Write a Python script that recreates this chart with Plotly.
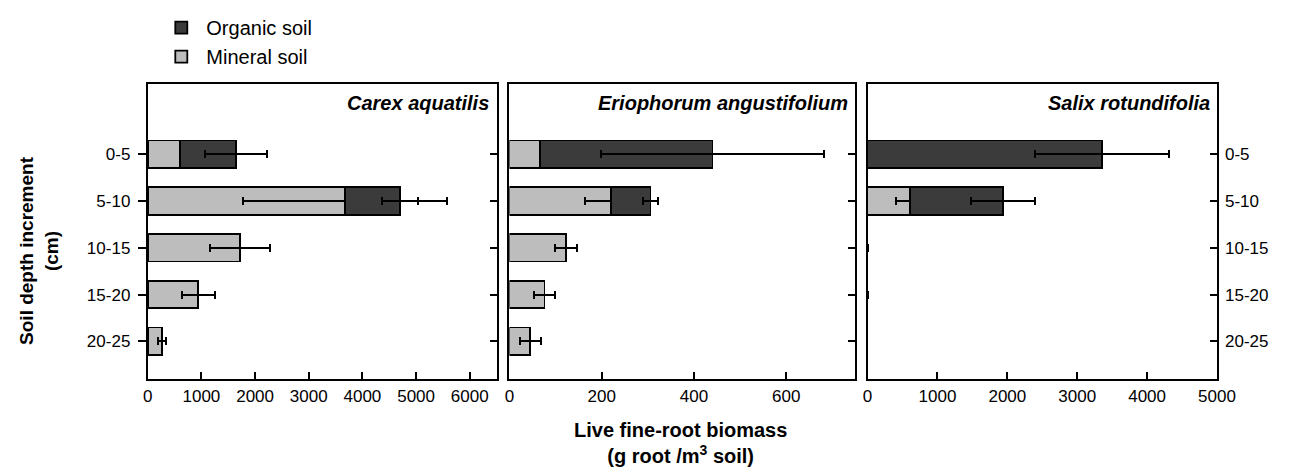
import numpy as np
import plotly.graph_objects as go

depths = ["0-5", "5-10", "10-15", "15-20", "20-25"]
species = ["Carex aquatilis", "Eriophorum angustifolium", "Salix rotundifolia"]

# Mineral soil (bar values and SE)
carex_mineral = [607, 3680, 1716, 940, 261]
carex_mineral_err = [np.nan, 1900, 555, 310, 75]
erio_mineral = [66.5, 221, 122, 76, 45]
erio_mineral_err = [np.nan, 57, 24, 23, 23]
salix_mineral = [0, 602, 0, 0, np.nan]
salix_mineral_err = [np.nan, 200, 0, 0, np.nan]

# Organic soil (stacked on mineral)
carex_organic = [1043, 1018, np.nan, np.nan, np.nan]
carex_organic_err = [575, 330, np.nan, np.nan, np.nan]
erio_organic = [373.5, 85, np.nan, np.nan, np.nan]
erio_organic_err = [242, 17, np.nan, np.nan, np.nan]
salix_organic = [3356, 1337, np.nan, np.nan, np.nan]
salix_organic_err = [958, 452, np.nan, np.nan, np.nan]

x_ranges = [[0, 6500], [0, 750], [0, 5000]]
x_dticks = [1000, 200, 1000]

MINERAL_COLOR = "#bdbdbd"
ORGANIC_COLOR = "#3b3b3b"
FONT = "Liberation Sans, Arial, sans-serif"

W, H = 1296, 467
def px_x(p): return p / W
def px_y(p): return 1 - p / H

x_domains = [[px_x(137.3), px_x(492.7)], [px_x(505.8), px_x(858.3)], [px_x(870.7), px_x(1226.7)]]
y_domain = [px_y(369.3), px_y(68)]
y_range = [4.81, -1.51]

panels = [
    (carex_mineral, carex_mineral_err, carex_organic, carex_organic_err),
    (erio_mineral, erio_mineral_err, erio_organic, erio_organic_err),
    (salix_mineral, salix_mineral_err, salix_organic, salix_organic_err),
]

fig = go.Figure()
for i, (mv, me, ov, oe) in enumerate(panels):
    xa = "x" if i == 0 else f"x{i+1}"
    ya = "y" if i == 0 else f"y{i+1}"
    fig.add_trace(go.Bar(
        y=depths, x=np.array(mv, dtype=float), orientation="h", name="Mineral soil",
        marker=dict(color=MINERAL_COLOR, line=dict(color="black", width=1.8)),
        error_x=dict(type="data", array=np.array(me, dtype=float), color="black", thickness=2, width=4),
        xaxis=xa, yaxis=ya, showlegend=(i == 0), legendgroup="m",
    ))
    fig.add_trace(go.Bar(
        y=depths, x=np.array(ov, dtype=float), orientation="h", name="Organic soil",
        marker=dict(color=ORGANIC_COLOR, line=dict(color="black", width=1.8)),
        error_x=dict(type="data", array=np.array(oe, dtype=float), color="black", thickness=2, width=4),
        xaxis=xa, yaxis=ya, showlegend=(i == 0), legendgroup="o",
    ))
    # empty trace so the right-side tick axis is drawn
    fig.add_trace(go.Scatter(
        x=[None], y=[None], xaxis=xa, yaxis=f"y{i+4}", showlegend=False,
        hoverinfo="skip", mode="markers",
    ))

layout = dict(
    width=W, height=H,
    margin=dict(l=0, r=0, t=0, b=0),
    paper_bgcolor="white", plot_bgcolor="white",
    barmode="stack", bargap=0.41,
    font=dict(family=FONT, size=17, color="black"),
    legend=dict(x=px_x(146), y=px_y(-9), xanchor="left", yanchor="top",
                traceorder="reversed", font=dict(size=20), bgcolor="rgba(0,0,0,0)",
                tracegroupgap=0, itemwidth=40),
)

for i in range(3):
    sfx = "" if i == 0 else str(i + 1)
    layout[f"xaxis{sfx}"] = dict(
        domain=x_domains[i], range=x_ranges[i], dtick=x_dticks[i], tick0=0,
        anchor=f"y{sfx}", showline=True, linecolor="black", linewidth=2, mirror=True,
        ticks="inside", ticklen=7, tickwidth=1.8, tickcolor="black",
        showgrid=False, zeroline=False, tickfont=dict(size=17), fixedrange=True,
    )
    layout[f"yaxis{sfx}"] = dict(
        domain=y_domain, range=y_range, type="category",
        anchor=f"x{sfx}", showline=True, linecolor="black", linewidth=2, mirror=True,
        ticks="outside" if i == 0 else "", ticklen=8, tickwidth=1.8, tickcolor="black",
        showticklabels=(i == 0), ticklabelstandoff=4,
        showgrid=False, zeroline=False, tickfont=dict(size=17),
    )
    # right-side inner ticks
    layout[f"yaxis{i+4}"] = dict(
        overlaying=f"y{sfx}", side="right", anchor=f"x{sfx}", type="linear",
        range=y_range, tickvals=list(range(len(depths))), ticktext=depths,
        ticks="inside", ticklen=7, tickwidth=1.8, tickcolor="black",
        showticklabels=(i == 2), ticklabelposition="outside", ticklabelstandoff=7,
        showgrid=False, zeroline=False, showline=False, tickfont=dict(size=17),
    )

annotations = []
for i, name in enumerate(species):
    sfx = "" if i == 0 else str(i + 1)
    annotations.append(dict(
        text=f"<b><i>{name}</i></b>", xref=f"x{sfx} domain", yref="paper",
        x=0.985, y=px_y(88), xanchor="right", yanchor="middle", showarrow=False,
        font=dict(size=20, family=FONT),
    ))
annotations.append(dict(
    text="<b>Soil depth increment<br>(cm)</b>", xref="paper", yref="paper",
    x=px_x(27), y=px_y(238), xanchor="center", yanchor="middle", textangle=-90,
    showarrow=False, font=dict(size=19, family=FONT),
))
annotations.append(dict(
    text="<b>Live fine-root biomass<br>(g root /m<sup>3</sup> soil)</b>", xref="paper", yref="paper",
    x=px_x(680), y=px_y(434), xanchor="center", yanchor="middle",
    showarrow=False, font=dict(size=20, family=FONT),
))
layout["annotations"] = annotations

fig.update_layout(**layout)
fig.write_html("out.html")
